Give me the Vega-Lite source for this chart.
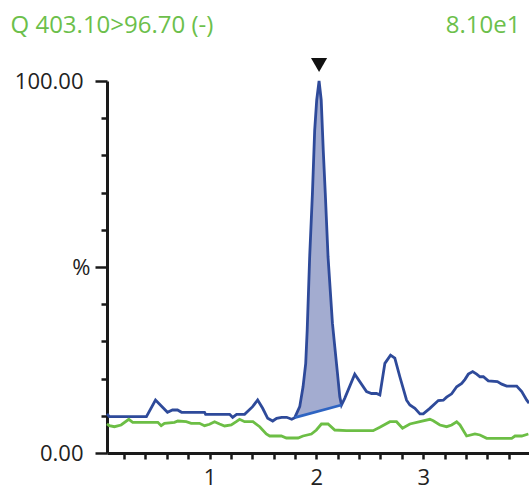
{
  "$schema": "https://vega.github.io/schema/vega-lite/v6.json",
  "width": 422,
  "height": 372,
  "autosize": {"type": "none"},
  "padding": {"left": 107, "top": 81, "right": 0, "bottom": 37},
  "background": "white",
  "config": {
    "view": {"stroke": null},
    "font": "Open Sans",
    "axis": {
      "domainColor": "#1a1a1a",
      "domainWidth": 3,
      "tickColor": "#1a1a1a",
      "tickWidth": 2.5,
      "labelColor": "#222222",
      "labelFont": "Open Sans",
      "labelFontSize": 22,
      "grid": false
    }
  },
  "datasets": {
    "traces": [
      {"t": 0.04, "v": 10.5, "s": "sample"},
      {"t": 0.062, "v": 9.76, "s": "sample"},
      {"t": 0.409, "v": 9.76, "s": "sample"},
      {"t": 0.494, "v": 14.25, "s": "sample"},
      {"t": 0.606, "v": 10.94, "s": "sample"},
      {"t": 0.653, "v": 11.56, "s": "sample"},
      {"t": 0.7, "v": 11.56, "s": "sample"},
      {"t": 0.738, "v": 10.94, "s": "sample"},
      {"t": 0.953, "v": 10.94, "s": "sample"},
      {"t": 0.963, "v": 10.4, "s": "sample"},
      {"t": 1.188, "v": 10.4, "s": "sample"},
      {"t": 1.216, "v": 9.6, "s": "sample"},
      {"t": 1.253, "v": 10.4, "s": "sample"},
      {"t": 1.328, "v": 10.4, "s": "sample"},
      {"t": 1.403, "v": 12.45, "s": "sample"},
      {"t": 1.45, "v": 14.25, "s": "sample"},
      {"t": 1.497, "v": 12.02, "s": "sample"},
      {"t": 1.544, "v": 9.33, "s": "sample"},
      {"t": 1.591, "v": 8.6, "s": "sample"},
      {"t": 1.628, "v": 9.33, "s": "sample"},
      {"t": 1.675, "v": 9.6, "s": "sample"},
      {"t": 1.722, "v": 9.6, "s": "sample"},
      {"t": 1.769, "v": 9.06, "s": "sample"},
      {"t": 1.797, "v": 9.49, "s": "sample"},
      {"t": 1.844, "v": 12.45, "s": "sample"},
      {"t": 1.875, "v": 17.8, "s": "sample"},
      {"t": 1.9, "v": 24.1, "s": "sample"},
      {"t": 1.914, "v": 33.1, "s": "sample"},
      {"t": 1.937, "v": 52.7, "s": "sample"},
      {"t": 1.963, "v": 69.9, "s": "sample"},
      {"t": 1.984, "v": 86.8, "s": "sample"},
      {"t": 2.003, "v": 94.9, "s": "sample"},
      {"t": 2.025, "v": 100, "s": "sample"},
      {"t": 2.045, "v": 94.9, "s": "sample"},
      {"t": 2.064, "v": 81.5, "s": "sample"},
      {"t": 2.083, "v": 69.9, "s": "sample"},
      {"t": 2.109, "v": 52.7, "s": "sample"},
      {"t": 2.15, "v": 34.9, "s": "sample"},
      {"t": 2.172, "v": 28.6, "s": "sample"},
      {"t": 2.197, "v": 21.5, "s": "sample"},
      {"t": 2.219, "v": 15.1, "s": "sample"},
      {"t": 2.235, "v": 12.9, "s": "sample"},
      {"t": 2.265, "v": 14.7, "s": "sample"},
      {"t": 2.359, "v": 21.2, "s": "sample"},
      {"t": 2.469, "v": 16.5, "s": "sample"},
      {"t": 2.516, "v": 16.0, "s": "sample"},
      {"t": 2.563, "v": 16.0, "s": "sample"},
      {"t": 2.594, "v": 15.6, "s": "sample"},
      {"t": 2.641, "v": 24.1, "s": "sample"},
      {"t": 2.694, "v": 26.3, "s": "sample"},
      {"t": 2.734, "v": 25.5, "s": "sample"},
      {"t": 2.781, "v": 20.5, "s": "sample"},
      {"t": 2.844, "v": 14.2, "s": "sample"},
      {"t": 2.875, "v": 12.9, "s": "sample"},
      {"t": 2.922, "v": 12.0, "s": "sample"},
      {"t": 2.969, "v": 10.5, "s": "sample"},
      {"t": 3.0, "v": 10.5, "s": "sample"},
      {"t": 3.062, "v": 12.0, "s": "sample"},
      {"t": 3.141, "v": 14.1, "s": "sample"},
      {"t": 3.188, "v": 14.2, "s": "sample"},
      {"t": 3.219, "v": 15.0, "s": "sample"},
      {"t": 3.266, "v": 15.9, "s": "sample"},
      {"t": 3.313, "v": 17.8, "s": "sample"},
      {"t": 3.36, "v": 18.7, "s": "sample"},
      {"t": 3.391, "v": 19.8, "s": "sample"},
      {"t": 3.422, "v": 21.2, "s": "sample"},
      {"t": 3.463, "v": 21.9, "s": "sample"},
      {"t": 3.5, "v": 21.2, "s": "sample"},
      {"t": 3.531, "v": 20.5, "s": "sample"},
      {"t": 3.563, "v": 20.5, "s": "sample"},
      {"t": 3.609, "v": 19.4, "s": "sample"},
      {"t": 3.694, "v": 19.2, "s": "sample"},
      {"t": 3.735, "v": 18.5, "s": "sample"},
      {"t": 3.781, "v": 18.0, "s": "sample"},
      {"t": 3.875, "v": 18.0, "s": "sample"},
      {"t": 3.922, "v": 16.5, "s": "sample"},
      {"t": 3.969, "v": 14.2, "s": "sample"},
      {"t": 3.99, "v": 13.4, "s": "sample"},
      {"t": 0.04, "v": 7.8, "s": "reference"},
      {"t": 0.062, "v": 7.34, "s": "reference"},
      {"t": 0.109, "v": 7.07, "s": "reference"},
      {"t": 0.172, "v": 7.53, "s": "reference"},
      {"t": 0.244, "v": 9.06, "s": "reference"},
      {"t": 0.281, "v": 8.25, "s": "reference"},
      {"t": 0.516, "v": 8.25, "s": "reference"},
      {"t": 0.547, "v": 7.34, "s": "reference"},
      {"t": 0.578, "v": 7.98, "s": "reference"},
      {"t": 0.672, "v": 8.25, "s": "reference"},
      {"t": 0.703, "v": 8.6, "s": "reference"},
      {"t": 0.782, "v": 8.41, "s": "reference"},
      {"t": 0.828, "v": 7.98, "s": "reference"},
      {"t": 0.906, "v": 7.98, "s": "reference"},
      {"t": 0.953, "v": 7.34, "s": "reference"},
      {"t": 1.0, "v": 7.72, "s": "reference"},
      {"t": 1.047, "v": 8.41, "s": "reference"},
      {"t": 1.094, "v": 7.8, "s": "reference"},
      {"t": 1.141, "v": 7.26, "s": "reference"},
      {"t": 1.203, "v": 7.53, "s": "reference"},
      {"t": 1.25, "v": 8.41, "s": "reference"},
      {"t": 1.281, "v": 9.06, "s": "reference"},
      {"t": 1.328, "v": 8.41, "s": "reference"},
      {"t": 1.406, "v": 8.41, "s": "reference"},
      {"t": 1.469, "v": 7.07, "s": "reference"},
      {"t": 1.531, "v": 5.11, "s": "reference"},
      {"t": 1.563, "v": 4.57, "s": "reference"},
      {"t": 1.672, "v": 4.57, "s": "reference"},
      {"t": 1.719, "v": 4.03, "s": "reference"},
      {"t": 1.828, "v": 4.03, "s": "reference"},
      {"t": 1.875, "v": 4.57, "s": "reference"},
      {"t": 1.953, "v": 5.11, "s": "reference"},
      {"t": 2.0, "v": 6.18, "s": "reference"},
      {"t": 2.047, "v": 7.8, "s": "reference"},
      {"t": 2.109, "v": 7.8, "s": "reference"},
      {"t": 2.172, "v": 6.18, "s": "reference"},
      {"t": 2.281, "v": 5.99, "s": "reference"},
      {"t": 2.531, "v": 5.99, "s": "reference"},
      {"t": 2.594, "v": 6.91, "s": "reference"},
      {"t": 2.688, "v": 8.41, "s": "reference"},
      {"t": 2.75, "v": 8.41, "s": "reference"},
      {"t": 2.806, "v": 6.64, "s": "reference"},
      {"t": 2.875, "v": 7.8, "s": "reference"},
      {"t": 2.969, "v": 8.41, "s": "reference"},
      {"t": 3.062, "v": 9.06, "s": "reference"},
      {"t": 3.094, "v": 8.68, "s": "reference"},
      {"t": 3.156, "v": 7.53, "s": "reference"},
      {"t": 3.219, "v": 7.07, "s": "reference"},
      {"t": 3.266, "v": 7.53, "s": "reference"},
      {"t": 3.313, "v": 8.41, "s": "reference"},
      {"t": 3.344, "v": 7.53, "s": "reference"},
      {"t": 3.406, "v": 4.57, "s": "reference"},
      {"t": 3.484, "v": 5.11, "s": "reference"},
      {"t": 3.531, "v": 4.84, "s": "reference"},
      {"t": 3.594, "v": 3.95, "s": "reference"},
      {"t": 3.828, "v": 3.95, "s": "reference"},
      {"t": 3.859, "v": 4.57, "s": "reference"},
      {"t": 3.922, "v": 4.57, "s": "reference"},
      {"t": 3.984, "v": 5.11, "s": "reference"}
    ],
    "peak": [
      {"t": 1.797, "v": 9.49, "base": 9.49},
      {"t": 1.844, "v": 12.45, "base": 9.86},
      {"t": 1.875, "v": 17.8, "base": 10.1},
      {"t": 1.9, "v": 24.1, "base": 10.29},
      {"t": 1.914, "v": 33.1, "base": 10.4},
      {"t": 1.937, "v": 52.7, "base": 10.58},
      {"t": 1.963, "v": 69.9, "base": 10.78},
      {"t": 1.984, "v": 86.8, "base": 10.95},
      {"t": 2.003, "v": 94.9, "base": 11.09},
      {"t": 2.025, "v": 100, "base": 11.26},
      {"t": 2.045, "v": 94.9, "base": 11.42},
      {"t": 2.064, "v": 81.5, "base": 11.57},
      {"t": 2.083, "v": 69.9, "base": 11.72},
      {"t": 2.109, "v": 52.7, "base": 11.92},
      {"t": 2.15, "v": 34.9, "base": 12.24},
      {"t": 2.172, "v": 28.6, "base": 12.41},
      {"t": 2.197, "v": 21.5, "base": 12.6},
      {"t": 2.219, "v": 15.1, "base": 12.77},
      {"t": 2.235, "v": 12.9, "base": 12.9}
    ],
    "baseline": [
      {"t": 1.797, "base": 9.49},
      {"t": 2.235, "base": 12.9}
    ],
    "apex": [
      {"t": 2.025, "intensity": "8.10e1"}
    ]
  },
  "resolve": {"axis": {"x": "independent", "y": "independent"}},
  "layer": [
    {
      "data": {"name": "peak"},
      "mark": {"type": "area", "color": "#a3acd0", "opacity": 1},
      "encoding": {
        "x": {
          "field": "t",
          "type": "quantitative",
          "scale": {"domain": [0.04, 3.99], "nice": false, "zero": false},
          "axis": {
            "orient": "bottom",
            "title": null,
            "values": [0.2, 0.4, 0.6, 0.8, 1, 1.2, 1.4, 1.6, 1.8, 2, 2.2, 2.4, 2.6, 2.8, 3, 3.2, 3.4, 3.6, 3.8],
            "labelExpr": "datum.value == 1 || datum.value == 2 || datum.value == 3 ? format(datum.value, 'd') : ''",
            "tickSize": 6,
            "labelPadding": 8,
            "labelFlush": false,
            "labelOverlap": false
          }
        },
        "y": {
          "field": "v",
          "type": "quantitative",
          "scale": {"domain": [0, 100], "nice": false, "zero": true},
          "axis": {
            "orient": "left",
            "values": [0, 10, 20, 30, 40, 50, 60, 70, 80, 90, 100],
            "labelExpr": "datum.value == 100 ? '100.00' : datum.value == 50 ? '%' : datum.value == 0 ? '0.00' : ''",
            "tickSize": {"condition": {"test": "datum.value % 50 === 0", "value": 12}, "value": 6},
            "labelPadding": {"condition": {"test": "datum.value == 50", "value": 5}, "value": 12},
            "labelOverlap": false,
            "labelFlush": false,
            "title": "Q 403.10>96.70 (-)",
            "titleFont": "Open Sans",
            "titleFontSize": 24,
            "titleFontWeight": "normal",
            "titleColor": "#6cbf4b",
            "titleAngle": 0,
            "titleAlign": "left",
            "titleBaseline": "alphabetic",
            "titleX": -97,
            "titleY": -49
          }
        },
        "y2": {"field": "base"}
      }
    },
    {
      "data": {"name": "traces"},
      "mark": {"type": "line", "strokeWidth": 2.8, "interpolate": "linear"},
      "encoding": {
        "x": {"field": "t", "type": "quantitative", "axis": null},
        "y": {"field": "v", "type": "quantitative", "axis": null},
        "color": {
          "field": "s",
          "type": "nominal",
          "scale": {"domain": ["sample", "reference"], "range": ["#2e4a9a", "#6cbe45"]},
          "legend": null
        },
        "order": {"field": "t", "type": "quantitative"}
      }
    },
    {
      "data": {"name": "baseline"},
      "mark": {"type": "line", "strokeWidth": 2.8, "color": "#2e64c2"},
      "encoding": {
        "x": {"field": "t", "type": "quantitative", "axis": null},
        "y": {"field": "base", "type": "quantitative", "axis": null}
      }
    },
    {
      "data": {"name": "apex"},
      "mark": {"type": "point", "shape": "triangle-down", "filled": true, "color": "#111111", "size": 260, "opacity": 1},
      "encoding": {
        "x": {
          "field": "t",
          "type": "quantitative",
          "axis": {
            "orient": "top",
            "domain": false,
            "ticks": false,
            "labels": false,
            "title": "8.10e1",
            "titleFont": "Open Sans",
            "titleFontSize": 24,
            "titleFontWeight": "normal",
            "titleColor": "#6cbf4b",
            "titleAlign": "right",
            "titleAnchor": "end",
            "titleBaseline": "alphabetic",
            "titleX": 413,
            "titleY": -49
          }
        },
        "y": {"datum": 104.3, "type": "quantitative", "axis": null}
      }
    }
  ]
}
